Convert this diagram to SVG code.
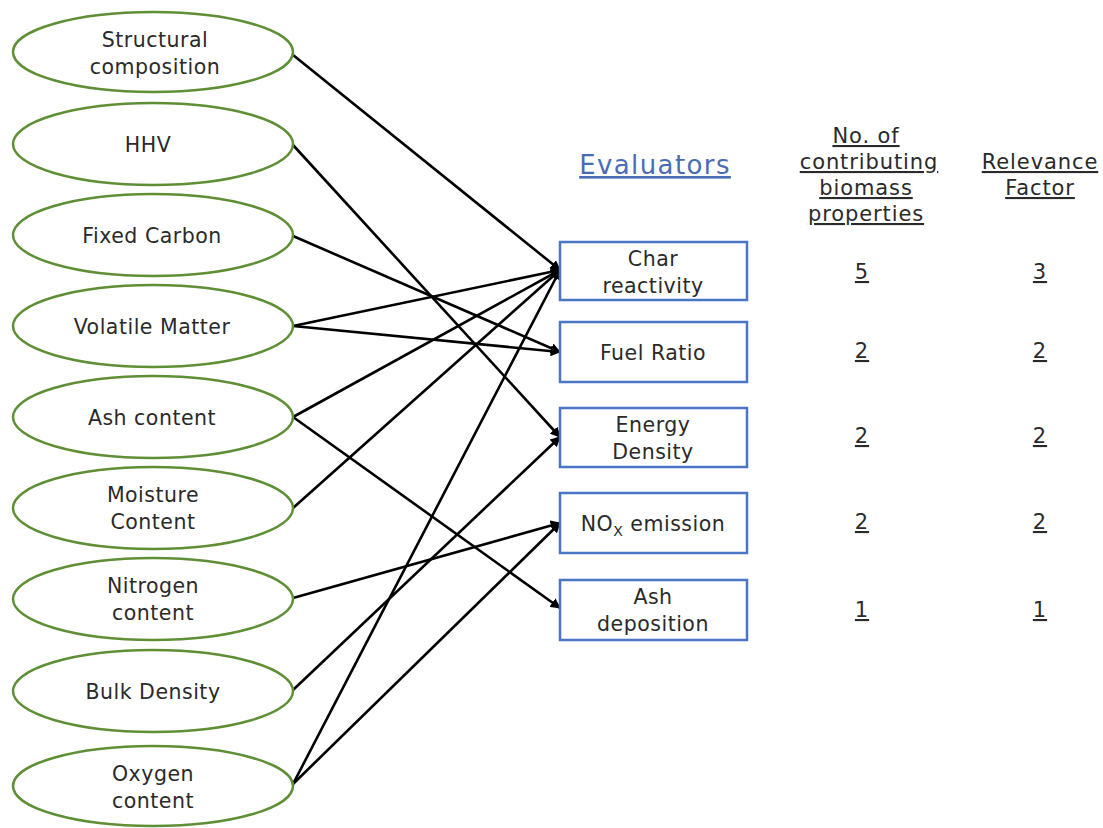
<svg xmlns="http://www.w3.org/2000/svg" width="1103" height="828" viewBox="0 0 1103 828">
<defs>
<marker id="arr" viewBox="0 0 10 10" refX="9" refY="5" markerWidth="4" markerHeight="4" orient="auto" markerUnits="strokeWidth">
<path d="M0,0 L10,5 L0,10 z" fill="#000"/>
</marker>
<style>
.ell{fill:#fff;stroke:#5f8f35;stroke-width:2.5}
.box{fill:#fff;stroke:#4a74c4;stroke-width:2.5}
.t{font-family:"DejaVu Sans","Open Sans",sans-serif;font-size:20.5px;letter-spacing:0.5px;fill:#2a2a2a;text-anchor:middle}
.h{font-family:"DejaVu Sans","Open Sans",sans-serif;font-size:21px;letter-spacing:0.9px;fill:#2a2a2a;text-anchor:middle;text-decoration:underline}
.ev{font-family:"DejaVu Sans","Open Sans",sans-serif;font-size:26px;letter-spacing:1.4px;fill:#4a6cb5;text-anchor:middle;text-decoration:underline}
.c{stroke:#000;stroke-width:2.6;fill:none;marker-end:url(#arr)}
</style>
</defs>
<rect width="1103" height="828" fill="#fff"/>
<g id="connectors">
<line class="c" x1="293" y1="55" x2="560" y2="270"/>
<line class="c" x1="293" y1="145" x2="560" y2="437"/>
<line class="c" x1="293" y1="236" x2="560" y2="352"/>
<line class="c" x1="293" y1="326" x2="560" y2="270"/>
<line class="c" x1="293" y1="326" x2="560" y2="352"/>
<line class="c" x1="293" y1="417" x2="560" y2="270"/>
<line class="c" x1="293" y1="417" x2="560" y2="608"/>
<line class="c" x1="293" y1="508" x2="560" y2="270"/>
<line class="c" x1="293" y1="598" x2="560" y2="523"/>
<line class="c" x1="293" y1="690" x2="560" y2="437"/>
<line class="c" x1="293" y1="784" x2="560" y2="270"/>
<line class="c" x1="293" y1="784" x2="560" y2="523"/>
</g>
<g id="n-structural"><ellipse class="ell" cx="153" cy="52" rx="140" ry="40"/><text class="t" x="155" y="47">Structural</text><text class="t" x="155" y="74">composition</text></g>
<g id="n-hhv"><ellipse class="ell" cx="153" cy="144" rx="140" ry="41"/><text class="t" x="148" y="152">HHV</text></g>
<g id="n-fixed"><ellipse class="ell" cx="153" cy="235" rx="140" ry="41"/><text class="t" x="152" y="243">Fixed Carbon</text></g>
<g id="n-volatile"><ellipse class="ell" cx="153" cy="326" rx="140" ry="41"/><text class="t" x="152" y="334">Volatile Matter</text></g>
<g id="n-ash"><ellipse class="ell" cx="153" cy="417" rx="140" ry="41"/><text class="t" x="152" y="425">Ash content</text></g>
<g id="n-moisture"><ellipse class="ell" cx="153" cy="508" rx="140" ry="41"/><text class="t" x="153" y="502">Moisture</text><text class="t" x="153" y="529">Content</text></g>
<g id="n-nitrogen"><ellipse class="ell" cx="153" cy="599" rx="140" ry="41"/><text class="t" x="153" y="593">Nitrogen</text><text class="t" x="153" y="620">content</text></g>
<g id="n-bulk"><ellipse class="ell" cx="153" cy="691" rx="140" ry="41"/><text class="t" x="153" y="699">Bulk Density</text></g>
<g id="n-oxygen"><ellipse class="ell" cx="153" cy="786" rx="140" ry="40"/><text class="t" x="153" y="781">Oxygen</text><text class="t" x="153" y="808">content</text></g>
<g id="e-char"><rect class="box" x="560" y="242" width="187" height="58"/><text class="t" x="653" y="266">Char</text><text class="t" x="653" y="293">reactivity</text></g>
<g id="e-fuel"><rect class="box" x="560" y="322" width="187" height="60"/><text class="t" x="653" y="360">Fuel Ratio</text></g>
<g id="e-energy"><rect class="box" x="560" y="408" width="187" height="59"/><text class="t" x="653" y="432">Energy</text><text class="t" x="653" y="459">Density</text></g>
<g id="e-nox"><rect class="box" x="560" y="493" width="187" height="60"/><text class="t" x="653" y="531">NO<tspan font-size="14" dy="5">X</tspan><tspan dy="-5"> emission</tspan></text></g>
<g id="e-ashdep"><rect class="box" x="560" y="580" width="187" height="60"/><text class="t" x="653" y="604">Ash</text><text class="t" x="653" y="631">deposition</text></g>
<g id="headers">
<text class="ev" x="655" y="174">Evaluators</text>
<text class="h" x="866" y="143">No. of</text>
<text class="h" x="869" y="169">contributing</text>
<text class="h" x="866" y="195">biomass</text>
<text class="h" x="866" y="221">properties</text>
<text class="h" x="1040" y="169">Relevance</text>
<text class="h" x="1040" y="195">Factor</text>
</g>
<g id="values">
<text class="h" x="862" y="279">5</text><text class="h" x="1040" y="279">3</text>
<text class="h" x="862" y="358">2</text><text class="h" x="1040" y="358">2</text>
<text class="h" x="862" y="443">2</text><text class="h" x="1040" y="443">2</text>
<text class="h" x="862" y="529">2</text><text class="h" x="1040" y="529">2</text>
<text class="h" x="862" y="617">1</text><text class="h" x="1040" y="617">1</text>
</g>
</svg>
